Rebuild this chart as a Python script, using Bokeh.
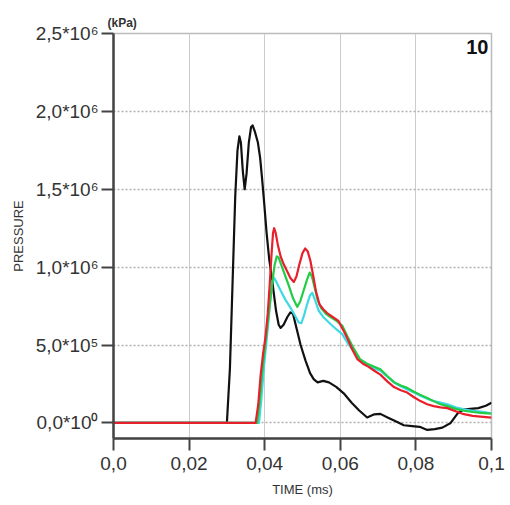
from bokeh.plotting import figure
from bokeh.models import FixedTicker, Label, Range1d
from bokeh.embed import file_html
from bokeh.resources import INLINE

# ---------------- data ----------------
black_t = [0.0, 0.0300, 0.0308, 0.0315, 0.0322, 0.0328, 0.0333, 0.0337, 0.0342, 0.0347,
           0.0352, 0.0358, 0.0364, 0.0368, 0.0374, 0.0382, 0.0388, 0.0393, 0.0398, 0.0405,
           0.0412, 0.0420, 0.0430, 0.0437, 0.0442, 0.0450, 0.0460, 0.0468, 0.0475, 0.0485,
           0.0495, 0.0508, 0.0520, 0.0530, 0.0540, 0.0555, 0.0570, 0.0590, 0.0609, 0.0630,
           0.0650, 0.0671, 0.0690, 0.0706, 0.0725, 0.0745, 0.0768, 0.0790, 0.0810, 0.0830,
           0.0850, 0.0870, 0.0892, 0.0910, 0.0925, 0.0944, 0.0965, 0.0985, 0.1000]
black_p = [0.0, 0.0, 0.35e6, 0.90e6, 1.45e6, 1.75e6, 1.84e6, 1.80e6, 1.62e6, 1.50e6,
           1.60e6, 1.80e6, 1.90e6, 1.91e6, 1.87e6, 1.80e6, 1.70e6, 1.57e6, 1.43e6, 1.22e6,
           1.05e6, 0.91e6, 0.72e6, 0.63e6, 0.61e6, 0.63e6, 0.68e6, 0.71e6, 0.70e6, 0.60e6,
           0.50e6, 0.40e6, 0.32e6, 0.28e6, 0.26e6, 0.27e6, 0.26e6, 0.23e6, 0.19e6, 0.13e6,
           0.08e6, 0.035e6, 0.055e6, 0.058e6, 0.035e6, 0.012e6, -0.015e6, -0.02e6, -0.025e6, -0.045e6,
           -0.04e6, -0.03e6, 0.0, 0.06e6, 0.085e6, 0.09e6, 0.095e6, 0.11e6, 0.13e6]

red_t = [0.0, 0.0376, 0.0383, 0.0389, 0.0396, 0.0402, 0.0408, 0.0413, 0.0418, 0.0422,
         0.0425, 0.0429, 0.0435, 0.0442, 0.0450, 0.0459, 0.0468, 0.0477, 0.0484, 0.0492,
         0.0500, 0.0507, 0.0514, 0.0521, 0.0528, 0.0536, 0.0545, 0.0555, 0.0565, 0.0580,
         0.0595, 0.0609, 0.0620, 0.0632, 0.0645, 0.0660, 0.0675, 0.0690, 0.0706, 0.0725,
         0.0742, 0.0760, 0.0777, 0.0795, 0.0812, 0.0830, 0.0847, 0.0865, 0.0883, 0.0905,
         0.0927, 0.0950, 0.0971, 0.1000]
red_p = [0.0, 0.0, 0.12e6, 0.30e6, 0.45e6, 0.55e6, 0.70e6, 0.88e6, 1.08e6, 1.22e6,
         1.25e6, 1.22e6, 1.14e6, 1.07e6, 1.02e6, 0.975e6, 0.93e6, 0.905e6, 0.94e6, 1.02e6,
         1.09e6, 1.12e6, 1.10e6, 1.04e6, 0.95e6, 0.84e6, 0.76e6, 0.73e6, 0.705e6, 0.68e6,
         0.655e6, 0.59e6, 0.535e6, 0.47e6, 0.41e6, 0.38e6, 0.36e6, 0.335e6, 0.31e6, 0.265e6,
         0.23e6, 0.21e6, 0.195e6, 0.165e6, 0.14e6, 0.12e6, 0.108e6, 0.10e6, 0.095e6, 0.075e6,
         0.056e6, 0.045e6, 0.04e6, 0.034e6]

green_t = [0.0, 0.0380, 0.0386, 0.0393, 0.0400, 0.0407, 0.0414, 0.0420, 0.0426, 0.0432,
           0.0437, 0.0446, 0.0455, 0.0464, 0.0475, 0.0486, 0.0494, 0.0503, 0.0512, 0.0519,
           0.0525, 0.0532, 0.0540, 0.0550, 0.0562, 0.0574, 0.0590, 0.0605, 0.0620, 0.0636,
           0.0652, 0.0671, 0.0690, 0.0706, 0.0725, 0.0742, 0.0760, 0.0777, 0.0795, 0.0812,
           0.0830, 0.0847, 0.0865, 0.0883, 0.0905, 0.0927, 0.0950, 0.0971, 0.1000]
green_p = [0.0, 0.0, 0.12e6, 0.32e6, 0.47e6, 0.62e6, 0.77e6, 0.90e6, 1.01e6, 1.07e6,
           1.06e6, 1.00e6, 0.94e6, 0.88e6, 0.80e6, 0.745e6, 0.78e6, 0.85e6, 0.92e6, 0.965e6,
           0.94e6, 0.87e6, 0.79e6, 0.735e6, 0.70e6, 0.68e6, 0.655e6, 0.625e6, 0.55e6, 0.475e6,
           0.41e6, 0.38e6, 0.36e6, 0.345e6, 0.30e6, 0.262e6, 0.24e6, 0.225e6, 0.20e6, 0.18e6,
           0.16e6, 0.14e6, 0.12e6, 0.108e6, 0.09e6, 0.078e6, 0.07e6, 0.065e6, 0.06e6]

cyan_t = [0.0, 0.0385, 0.0391, 0.0398, 0.0405, 0.0411, 0.0416, 0.0420, 0.0425, 0.0432,
          0.0442, 0.0455, 0.0468, 0.0480, 0.0490, 0.0497, 0.0504, 0.0512, 0.0520, 0.0526,
          0.0533, 0.0543, 0.0555, 0.0574, 0.0590, 0.0605, 0.0620, 0.0636, 0.0652, 0.0671,
          0.0690, 0.0706, 0.0725, 0.0742, 0.0760, 0.0777, 0.0795, 0.0812, 0.0830, 0.0847,
          0.0865, 0.0883, 0.0905, 0.0927, 0.0950, 0.0971, 0.1000]
cyan_p = [0.0, 0.0, 0.15e6, 0.36e6, 0.53e6, 0.68e6, 0.82e6, 0.91e6, 0.93e6, 0.90e6,
          0.85e6, 0.79e6, 0.74e6, 0.69e6, 0.645e6, 0.64e6, 0.69e6, 0.76e6, 0.82e6, 0.835e6,
          0.79e6, 0.72e6, 0.68e6, 0.635e6, 0.60e6, 0.57e6, 0.51e6, 0.46e6, 0.40e6, 0.37e6,
          0.35e6, 0.335e6, 0.295e6, 0.26e6, 0.235e6, 0.215e6, 0.195e6, 0.175e6, 0.155e6, 0.14e6,
          0.13e6, 0.12e6, 0.10e6, 0.088e6, 0.078e6, 0.072e6, 0.062e6]

x_ticks = [0.0, 0.02, 0.04, 0.06, 0.08, 0.1]
x_labels = ["0,0", "0,02", "0,04", "0,06", "0,08", "0,1"]
y_ticks = [0.0, 0.5e6, 1.0e6, 1.5e6, 2.0e6, 2.5e6]
y_labels = ["0,0*10\u2070", "5,0*10\u2075", "1,0*10\u2076", "1,5*10\u2076", "2,0*10\u2076", "2,5*10\u2076"]

FONT = "Liberation Sans"

p = figure(output_backend="svg", toolbar_location=None,
           frame_width=378, frame_height=405,
           min_border_left=113, min_border_top=33, min_border_right=19, min_border_bottom=67,
           x_range=Range1d(0.0, 0.1), y_range=Range1d(-0.1e6, 2.5e6))
p.background_fill_color = "white"
p.border_fill_color = "white"
p.outline_line_color = "#bbbbbb"
p.outline_line_width = 1.5

# title used as the "(kPa)" unit mark above the y axis
p.title.text = "(kPa)"
p.title.align = "left"
p.title.offset = -6
p.title.standoff = 8
p.title.text_font = FONT
p.title.text_font_size = "12px"
p.title.text_font_style = "bold"
p.title.text_color = "#333333"

# axes
for ax in (p.xaxis[0], p.yaxis[0]):
    ax.axis_line_color = "#444444"
    ax.axis_line_width = 2.5
    ax.major_tick_line_color = "#444444"
    ax.major_tick_line_width = 2
    ax.major_tick_in = 0
    ax.major_tick_out = 12
    ax.minor_tick_line_color = None
    ax.major_label_text_font = FONT
    ax.major_label_text_font_size = "19px"
    ax.major_label_text_color = "#333333"
    ax.axis_label_text_font = FONT
    ax.axis_label_text_font_style = "normal"
    ax.axis_label_text_font_size = "13px"
    ax.axis_label_text_color = "#333333"

p.xaxis.ticker = FixedTicker(ticks=x_ticks)
p.xaxis.major_label_overrides = dict(zip(x_ticks, x_labels))
p.xaxis.axis_label = "TIME (ms)"
p.xaxis.major_label_standoff = 6
p.xaxis.axis_label_standoff = 9

p.yaxis.ticker = FixedTicker(ticks=y_ticks)
p.yaxis.major_label_overrides = dict(zip(y_ticks, y_labels))
p.yaxis.axis_label = "PRESSURE"
p.yaxis.major_label_standoff = 3
p.yaxis.axis_label_standoff = 7

# grids
p.ygrid.grid_line_color = "#b0b0b0"
p.ygrid.grid_line_dash = "2 2"
p.ygrid.grid_line_width = 1.5
p.xgrid.grid_line_color = "#cccccc"
p.xgrid.grid_line_width = 1

# curves
for t, v, c in ((black_t, black_p, "#111111"), (cyan_t, cyan_p, "#3fd9e6"),
                (green_t, green_p, "#22cc44"), (red_t, red_p, "#e8202c")):
    p.line(t, v, line_color=c, line_width=2.2, line_join="round")

# panel number
p.add_layout(Label(x=0.0992, y=2.416e6, text="10", text_font=FONT, text_font_size="20px",
                   text_font_style="bold", text_color="#111111",
                   text_align="right", text_baseline="middle"))

open("out.html", "w").write(file_html(p, INLINE))
